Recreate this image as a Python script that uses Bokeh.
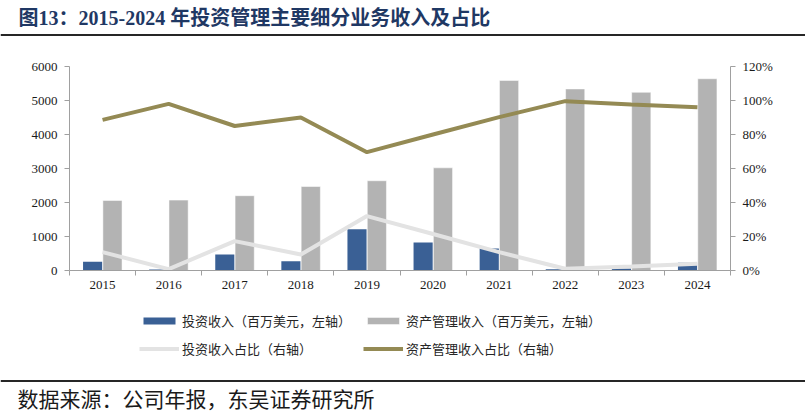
from bokeh.plotting import figure
from bokeh.models import (ColumnDataSource, Range1d, LinearAxis, FixedTicker,
                          NumeralTickFormatter, Legend, LegendItem, Label, Span)
from bokeh.layouts import column
from bokeh.transform import dodge
from bokeh.embed import file_html
from bokeh.resources import INLINE

# data
years = [2015, 2016, 2017, 2018, 2019, 2020, 2021, 2022, 2023, 2024]
invest_income = [260, 30, 470, 270, 1210, 820, 650, 40, 60, 230]        # 百万美元
asset_income = [2060, 2070, 2200, 2470, 2640, 3020, 5590, 5340, 5240, 5640]
invest_share = [0.108, 0.008, 0.173, 0.094, 0.32, 0.215, 0.108, 0.01, 0.024, 0.039]
asset_share = [0.886, 0.98, 0.85, 0.90, 0.696, 0.80, 0.902, 0.996, 0.976, 0.96]

title_text = "图13：2015-2024 年投资管理主要细分业务收入及占比"
source_text = "数据来源：公司年报，东吴证券研究所"
legend_labels = ["投资收入（百万美元，左轴）", "资产管理收入（百万美元，左轴）",
                 "投资收入占比（右轴）", "资产管理收入占比（右轴）"]

BLUE = "#3A6095"
GREY = "#B3B3B3"
LIGHT = "#E3E3E3"
OLIVE = "#948A54"
AXIS = "#A0A0A0"
SERIF = "Liberation Serif, Noto Sans CJK SC"
CJK = "Noto Sans CJK SC"
W = 805
NAN = float("nan")


def bare(fig):
    fig.grid.visible = False
    fig.outline_line_color = None
    fig.frame_align = False
    return fig


def strip(h):
    # figure without axes whose frame fills the whole canvas, y pointing down
    return bare(figure(width=W, height=h, x_range=Range1d(0, W), y_range=Range1d(h, 0),
                       x_axis_location=None, y_axis_location=None, min_border=0,
                       toolbar_location=None, output_backend="svg"))


# header: title + rule
head = strip(44)
head.add_layout(Label(x=18, y=17, text=title_text, text_font=SERIF, text_font_size="20px",
                      text_font_style="bold", text_color="#1F3864", text_baseline="middle"))
head.add_layout(Span(location=34.5, dimension="width", line_color="#262626", line_width=2))

# main chart
idx = list(range(len(years)))
source = ColumnDataSource(dict(x=idx, inv=invest_income, am=asset_income,
                               inv_s=invest_share, am_s=asset_share))

p = bare(figure(width=W, height=256, x_range=Range1d(-0.5, len(years) - 0.5),
                y_range=Range1d(0, 6000), y_axis_location=None, x_axis_location=None,
                min_border_left=69, min_border_right=75, min_border_top=22,
                min_border_bottom=30, toolbar_location=None, output_backend="svg"))
p.extra_y_ranges = {"pct": Range1d(0, 1.2)}

xaxis = LinearAxis(ticker=FixedTicker(ticks=idx, minor_ticks=[i - 0.5 for i in idx] + [len(idx) - 0.5]),
                   major_label_overrides={i: str(y) for i, y in zip(idx, years)})
xaxis.major_tick_out = 5
xaxis.minor_tick_in = 0
xaxis.minor_tick_out = 5
xaxis.minor_tick_line_color = AXIS
p.add_layout(xaxis, "below")

laxis = LinearAxis(ticker=FixedTicker(ticks=[0, 1000, 2000, 3000, 4000, 5000, 6000]))
raxis = LinearAxis(y_range_name="pct", ticker=FixedTicker(ticks=[0, 0.2, 0.4, 0.6, 0.8, 1.0, 1.2]),
                   formatter=NumeralTickFormatter(format="0%"))
for ax in (laxis, raxis):
    ax.minor_tick_line_color = None
    ax.major_tick_in = 0
    ax.major_tick_out = 5
    ax.major_label_standoff = 7
for ax in (xaxis, laxis, raxis):
    ax.axis_line_color = AXIS
    ax.major_tick_line_color = AXIS if ax is not xaxis else None
    ax.major_label_text_font = "Liberation Serif"
    ax.major_label_text_font_size = "13px"
    ax.major_label_text_color = "#1a1a1a"
p.add_layout(laxis, "left")
p.add_layout(raxis, "right")

bar_style = [dict(fill_color=BLUE, line_color=None),
             dict(fill_color=GREY, line_color="white", line_width=0.5)]
line_style = [dict(line_color=LIGHT, line_width=4), dict(line_color=OLIVE, line_width=4)]

p.vbar(x=dodge("x", -0.15, range=p.x_range), top="inv", width=0.29, source=source, **bar_style[0])
p.vbar(x=dodge("x", 0.15, range=p.x_range), top="am", width=0.29, source=source, **bar_style[1])
p.line(x="x", y="inv_s", y_range_name="pct", source=source, **line_style[0])
p.line(x="x", y="am_s", y_range_name="pct", source=source, **line_style[1])

# legend strip: renderers with a single NaN row only carry the swatch styles
leg = strip(66)
swatches = [leg.vbar(x=[NAN], top=[NAN], width=1, **bar_style[0]),
            leg.vbar(x=[NAN], top=[NAN], width=1, **bar_style[1]),
            leg.line(x=[NAN], y=[NAN], **line_style[0]),
            leg.line(x=[NAN], y=[NAN], **line_style[1])]
legend = Legend(items=[LegendItem(label=lab, renderers=[r]) for lab, r in zip(legend_labels, swatches)],
                location=(139, 8), orientation="horizontal", ncols=2,
                glyph_width=40, glyph_height=9, label_height=18, label_width=172,
                label_standoff=3, spacing=9, padding=0, margin=0,
                border_line_color=None, background_fill_alpha=0,
                label_text_font=CJK, label_text_font_size="13px", label_text_color="#262626")
leg.add_layout(legend, "center")

# footer: rule + source
foot = strip(48)
foot.add_layout(Span(location=14.5, dimension="width", line_color="#262626", line_width=2))
foot.add_layout(Label(x=17, y=31, text=source_text, text_font=CJK, text_font_size="21px",
                      text_color="#1a1a1a", text_baseline="middle"))

page = column(head, p, leg, foot, spacing=0)
open("out.html", "w").write(file_html(page, INLINE))
